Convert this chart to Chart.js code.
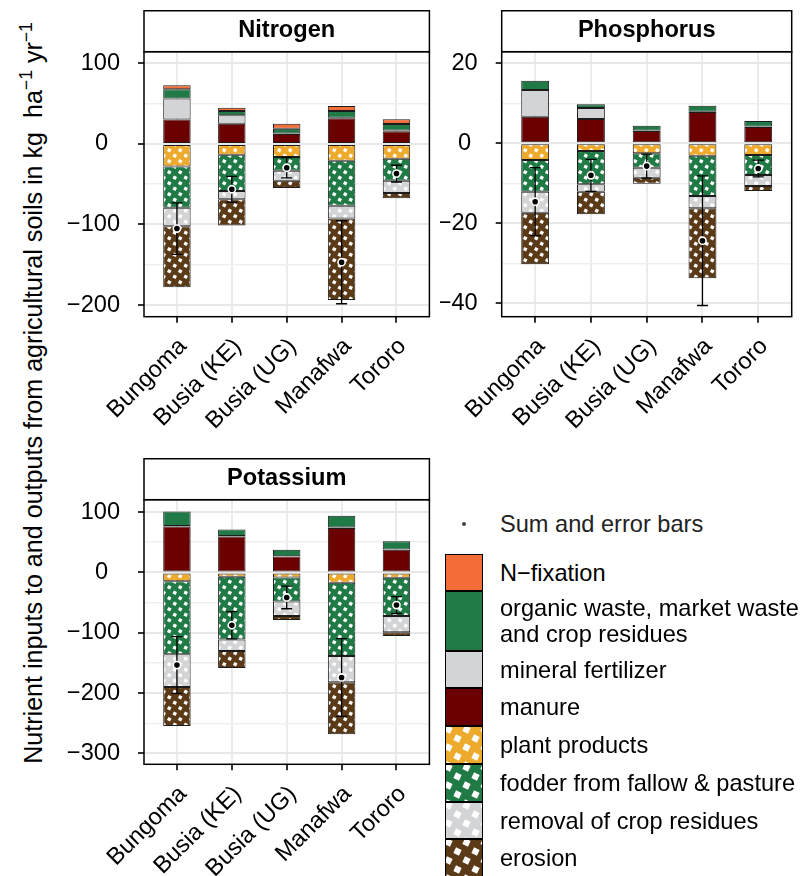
<!DOCTYPE html>
<html>
<head>
<meta charset="utf-8">
<script src="https://cdn.jsdelivr.net/npm/chart.js@4/dist/chart.umd.min.js"></script>
<style>
  html, body { margin: 0; padding: 0; background: #fff; }
  body { width: 806px; height: 876px; overflow: hidden; position: relative;
         font-family: "Liberation Sans", Arial, sans-serif; color: #000; }
  canvas { position: absolute; }
  #ylab { position: absolute; left: 33px; top: 393px; white-space: nowrap;
          font-size: 25.1px; transform: translate(-50%, -50%) rotate(-90deg); }
  #ylab sup { font-size: 0.7em; vertical-align: 0; position: relative; top: -0.55em; }
  .lg-text { position: absolute; left: 500px; font-size: 23.6px; line-height: 26px; white-space: nowrap; }
  .lg-dot { position: absolute; left: 462px; top: 522px; width: 4px; height: 4px; border-radius: 50%; background: #444; }
</style>
</head>
<body>
<div id="ylab">Nutrient inputs to and outputs from agricultural soils in kg&nbsp; ha<sup>−1</sup> yr<sup>−1</sup></div>

<canvas id="chartN" width="395" height="440" style="left:40px;top:10px"></canvas>
<canvas id="chartP" width="360" height="440" style="left:440px;top:10px"></canvas>
<canvas id="chartK" width="395" height="418" style="left:40px;top:458px"></canvas>

<div id="legend"></div>

<script>
// ---- categories and flow components ----
const districts = ['Bungoma', 'Busia (KE)', 'Busia (UG)', 'Manafwa', 'Tororo'];
const components = [
  'N\u2212fixation',
  'organic waste, market waste\nand crop residues',
  'mineral fertilizer',
  'manure',
  'plant products',
  'fodder from fallow & pasture',
  'removal of crop residues',
  'erosion'
];

// ---- Nitrogen (kg ha-1 yr-1) ----
const nFixation = [5.0, 4.2, 6.2, 6.2, 5.8];
const nOrganic  = [11.7, 5.4, 6.0, 8.3, 8.2];
const nMineral  = [25.8, 10.4, 0.6, 0.8, 0.8];
const nManure   = [30.4, 25.0, 12.2, 31.7, 15.8];
const nPlant    = [28.0, 13.4, 16.3, 21.0, 18.6];
const nFodder   = [51.2, 45.0, 17.1, 55.8, 27.3];
const nRemoval  = [22.9, 10.4, 12.5, 15.8, 15.0];
const nErosion  = [75.9, 32.5, 8.7, 101.3, 6.6];
const nError    = [32.0, 16.0, 12.7, 51.5, 10.4];

// ---- Phosphorus ----
const pFixation = [0, 0, 0, 0, 0];
const pOrganic  = [2.35, 0.95, 1.2, 1.5, 1.4];
const pMineral  = [6.65, 2.7, 0.1, 0.1, 0.1];
const pManure   = [6.65, 6.1, 3.1, 7.8, 4.1];
const pPlant    = [4.2, 1.9, 2.5, 3.1, 2.9];
const pFodder   = [7.9, 8.35, 3.6, 10.1, 5.0];
const pRemoval  = [5.25, 1.85, 2.5, 3.05, 2.8];
const pErosion  = [12.9, 5.65, 1.5, 17.5, 1.2];
const pError    = [8.5, 4.0, 3.0, 16.2, 2.1];

// ---- Potassium ----
const kFixation = [0, 0, 0, 0, 0];
const kOrganic  = [24.0, 10.5, 10.5, 19.5, 13.5];
const kMineral  = [1.0, 1.0, 0.5, 1.0, 0.5];
const kManure   = [76.0, 59.5, 26.5, 73.5, 37.5];
const kPlant    = [14.5, 7.0, 8.5, 17.0, 9.0];
const kFodder   = [121.0, 104.0, 39.5, 121.5, 63.0];
const kRemoval  = [54.5, 19.0, 24.0, 43.5, 27.0];
const kErosion  = [64.5, 28.5, 7.0, 86.0, 6.5];
const kError    = [47.0, 22.7, 18.7, 64.4, 14.0];

// ---- axis ticks ----
const nTicksMajor = [-200, -100, 0, 100];
const nTicksMinor = [-150, -50, 50];
const pTicksMajor = [-40, -20, 0, 20];
const pTicksMinor = [-30, -10, 10];
const kTicksMajor = [-300, -200, -100, 0, 100];
const kTicksMinor = [-250, -150, -50, 50];

// ---- colours ----
const colFixation = '#F26D37';
const colGreen    = '#1F7A46';
const colGrey     = '#D3D4D6';
const colManure   = '#6A0000';
const colPlant    = '#EDAA2C';
const colErosion  = '#5B3A18';

const FONT = '"Liberation Sans", Arial, sans-serif';
const FS = 23.6;
Chart.defaults.font.family = FONT;
Chart.defaults.font.size = FS;
Chart.defaults.color = '#000';

// lattice of small white tilted squares over a flat colour
function latticeFill(color, tile, sq) {
  const c = document.createElement('canvas');
  c.width = c.height = tile;
  const g = c.getContext('2d');
  g.fillStyle = color;
  g.fillRect(0, 0, tile, tile);
  g.fillStyle = '#fff';
  const centres = [[tile / 4, tile / 4], [3 * tile / 4, 3 * tile / 4]];
  for (const [cx, cy] of centres) {
    for (const dx of [-tile, 0, tile]) for (const dy of [-tile, 0, tile]) {
      g.save();
      g.translate(cx + dx, cy + dy);
      g.rotate(Math.PI / 7);
      g.fillRect(-sq / 2, -sq / 2, sq, sq);
      g.restore();
    }
  }
  return g.createPattern(c, 'repeat');
}

const barFills = {
  fixation: colFixation,
  organic: colGreen,
  mineral: colGrey,
  manure: colManure,
  plant: latticeFill(colPlant, 11, 3.4),
  fodder: latticeFill(colGreen, 11, 3.4),
  removal: latticeFill(colGrey, 11, 3.4),
  erosion: latticeFill(colErosion, 11, 3.4)
};

// tick text: true minus sign; the zero label sits a little left of the others
const tickText = (v, zeroPad) => (v < 0 ? '\u2212' + Math.abs(v) : (v === 0 ? '0' + zeroPad : String(v)));

// frame around the panel plus the title strip above it
const panelFrame = {
  id: 'panelFrame',
  afterDraw(chart) {
    const { ctx, chartArea: a } = chart;
    ctx.save();
    ctx.strokeStyle = '#000';
    ctx.lineWidth = 1.5;
    ctx.strokeRect(a.left, a.top, a.right - a.left, a.bottom - a.top);
    ctx.strokeRect(a.left, 0.75, a.right - a.left, a.top - 0.75);
    ctx.restore();
  }
};

// vertical error bars drawn just before the dataset that carries them
const errorBars = {
  id: 'errorBars',
  beforeDatasetDraw(chart, args) {
    const ds = chart.data.datasets[args.index];
    if (!ds.errors) return;
    const { ctx } = chart;
    const xs = chart.scales.x, ys = chart.scales.y;
    ctx.save();
    ctx.strokeStyle = '#000';
    ctx.lineWidth = 1.3;
    ds.data.forEach((pt, i) => {
      const px = xs.getPixelForValue(pt.x);
      const lo = ys.getPixelForValue(pt.y - ds.errors[i]);
      const hi = ys.getPixelForValue(pt.y + ds.errors[i]);
      ctx.beginPath();
      ctx.moveTo(px, lo); ctx.lineTo(px, hi);
      ctx.moveTo(px - 5.5, lo); ctx.lineTo(px + 5.5, lo);
      ctx.moveTo(px - 5.5, hi); ctx.lineTo(px + 5.5, hi);
      ctx.stroke();
    });
    ctx.restore();
  }
};

function barSet(label, values, fill, sign) {
  return {
    type: 'bar',
    label,
    data: values.map((v, i) => ({ x: i + 1, y: v === 0 ? null : sign * v })),
    backgroundColor: fill,
    borderColor: '#1c1c1c',
    borderWidth: 1,
    borderSkipped: false,
    categoryPercentage: 1,
    barPercentage: 0.5,
    order: 1
  };
}

function buildDatasets(fix, org, min, man, pla, fod, rem, ero, err) {
  const net = districts.map((_, i) =>
    fix[i] + org[i] + min[i] + man[i] - pla[i] - fod[i] - rem[i] - ero[i]);
  return [
    barSet(components[3], man, barFills.manure, 1),
    barSet(components[2], min, barFills.mineral, 1),
    barSet(components[1], org, barFills.organic, 1),
    barSet(components[0], fix, barFills.fixation, 1),
    barSet(components[4], pla, barFills.plant, -1),
    barSet(components[5], fod, barFills.fodder, -1),
    barSet(components[6], rem, barFills.removal, -1),
    barSet(components[7], ero, barFills.erosion, -1),
    {
      type: 'scatter',
      label: 'Sum and error bars',
      data: net.map((v, i) => ({ x: i + 1, y: v })),
      errors: err,
      pointRadius: 3.6,
      pointBackgroundColor: '#000',
      pointBorderColor: '#fff',
      pointBorderWidth: 1.6,
      showLine: false,
      order: 0
    }
  ];
}

function panelOptions(title, yMin, yMax, major, minor, yWidth, xHeight, rightPad, zeroPad) {
  const all = major.concat(minor).sort((a, b) => a - b);
  return {
    responsive: false,
    animation: false,
    devicePixelRatio: 1,
    layout: { padding: { left: 0, right: rightPad, top: 0, bottom: 0 } },
    plugins: {
      legend: { display: false },
      tooltip: { enabled: false },
      title: {
        display: true, text: title, fullSize: false, color: '#000',
        font: { size: FS, weight: 'bold' }, padding: { top: 6.7, bottom: 6.7 }
      }
    },
    scales: {
      x: {
        type: 'linear', min: 0.4, max: 5.6, stacked: true, offset: false,
        afterBuildTicks: s => { s.ticks = districts.map((_, i) => ({ value: i + 1 })); },
        afterFit: s => { s.height = xHeight; },
        ticks: {
          autoSkip: false, minRotation: 45, maxRotation: 45, padding: 10, labelOffset: 6,
          callback: v => districts[v - 1], color: '#000'
        },
        grid: { offset: false, color: '#EBEBEB', lineWidth: 2, tickColor: '#333', tickLength: 6 },
        border: { display: false }
      },
      y: {
        stacked: true, min: yMin, max: yMax,
        afterBuildTicks: s => { s.ticks = all.map(v => ({ value: v })); },
        afterFit: s => { s.width = yWidth; },
        ticks: {
          autoSkip: false, padding: 18, color: '#000',
          callback: v => (major.includes(v) ? tickText(v, zeroPad) : '')
        },
        grid: {
          color: c => (major.includes(c.tick.value) ? '#E8E8E8' : '#EFEFEF'),
          lineWidth: c => (major.includes(c.tick.value) ? 2 : 1.6),
          tickColor: c => (major.includes(c.tick.value) ? '#333' : 'rgba(0,0,0,0)'),
          tickLength: 6
        },
        border: { display: false }
      }
    }
  };
}

new Chart(document.getElementById('chartN'), {
  type: 'bar',
  data: { datasets: buildDatasets(nFixation, nOrganic, nMineral, nManure, nPlant, nFodder, nRemoval, nErosion, nError) },
  options: panelOptions('Nitrogen', -214.5, 114.4, nTicksMajor, nTicksMinor, 104, 133.3, 2, '\u2002'),
  plugins: [panelFrame, errorBars]
});

new Chart(document.getElementById('chartP'), {
  type: 'bar',
  data: { datasets: buildDatasets(pFixation, pOrganic, pMineral, pManure, pPlant, pFodder, pRemoval, pErosion, pError) },
  options: panelOptions('Phosphorus', -43.35, 22.9, pTicksMajor, pTicksMinor, 61.7, 133.3, 8.3, ' '),
  plugins: [panelFrame, errorBars]
});

new Chart(document.getElementById('chartK'), {
  type: 'bar',
  data: { datasets: buildDatasets(kFixation, kOrganic, kMineral, kManure, kPlant, kFodder, kRemoval, kErosion, kError) },
  options: panelOptions('Potassium', -317.9, 120.5, kTicksMajor, kTicksMinor, 104, 111.7, 2, '\u2002'),
  plugins: [panelFrame, errorBars]
});

// ---- legend ----
const legendFills = [
  colFixation, colGreen, colGrey, colManure,
  latticeFill(colPlant, 18, 6.2), latticeFill(colGreen, 18, 6.2),
  latticeFill(colGrey, 18, 6.2), latticeFill(colErosion, 18, 6.2)
];
const legendRows = [[554, 37], [591, 60], [651, 37], [688, 38], [726, 38], [764, 38], [802, 37], [839, 38]];
const legend = document.getElementById('legend');
const sumDot = document.createElement('div');
sumDot.className = 'lg-dot';
legend.appendChild(sumDot);
const sumText = document.createElement('div');
sumText.className = 'lg-text';
sumText.style.top = '511px';
sumText.style.color = '#222';
sumText.textContent = 'Sum and error bars';
legend.appendChild(sumText);

components.forEach((name, i) => {
  const [top, h] = legendRows[i];
  const sw = document.createElement('canvas');
  sw.width = 40; sw.height = h + 2;
  sw.style.left = '444px'; sw.style.top = (top - 1) + 'px';
  const g = sw.getContext('2d');
  g.fillStyle = legendFills[i];
  g.fillRect(1, 1, 38, h);
  g.strokeStyle = '#000';
  g.lineWidth = 1;
  g.strokeRect(1.5, 1.5, 37, h - 1);
  legend.appendChild(sw);
  const lines = name.split('\n');
  const t = document.createElement('div');
  t.className = 'lg-text';
  t.style.top = (top + h / 2 - lines.length * 13) + 'px';
  t.innerHTML = lines.map(s => s.replace(/&/g, '&amp;')).join('<br>');
  legend.appendChild(t);
});
</script>
</body>
</html>
